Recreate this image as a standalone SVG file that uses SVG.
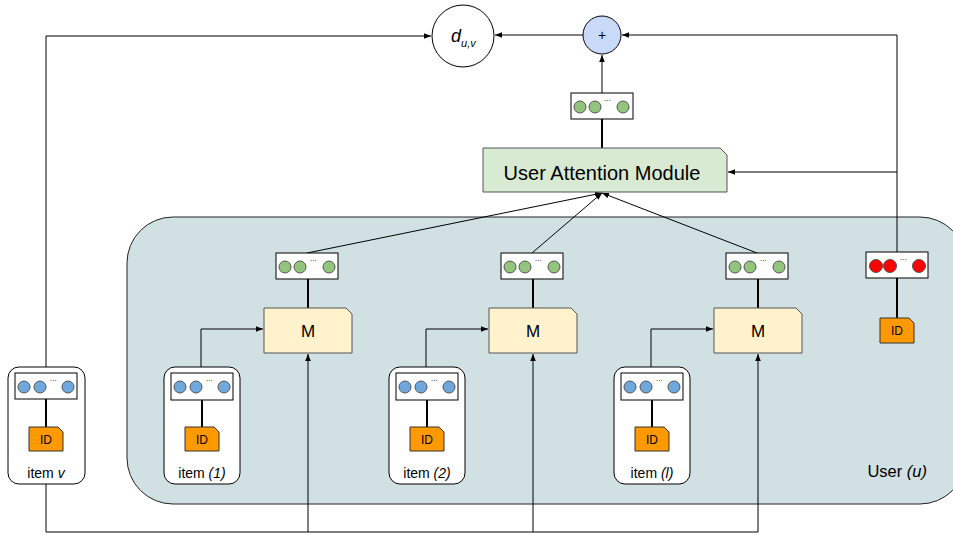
<svg xmlns="http://www.w3.org/2000/svg" width="953" height="535" viewBox="0 0 953 535">
<style>
text{font-family:"Liberation Sans",Arial,sans-serif;fill:#000}
.vec{fill:#fff;stroke:#000;stroke-width:1}
.cb{fill:#6fa8dc;stroke:#555;stroke-width:1}
.cg{fill:#93c47d;stroke:#555;stroke-width:1}
.cr{fill:#ff0000;stroke:#555;stroke-width:1}
.dots{font-size:8px}
.id{fill:#ff9900;stroke:#333;stroke-width:1}
.idt{font-size:12px;text-anchor:middle}
.thick{stroke:#000;stroke-width:2}
.item{fill:#fff;stroke:#000;stroke-width:1}
.m{fill:#fff2cc;stroke:#555;stroke-width:1}
.lbl{font-size:14px;text-anchor:middle}
.con{fill:none;stroke:#000;stroke-width:1}
</style>
<defs>
<marker id="ah" viewBox="0 0 10 10" refX="10" refY="5" markerWidth="7" markerHeight="7" markerUnits="userSpaceOnUse" orient="auto">
<path d="M0,1 L10,5 L0,9 z" fill="#000"/>
</marker>
</defs>

<g id="user">
<rect x="127" y="217" width="839" height="287" rx="46" fill="#d0e0e3" stroke="#222" stroke-width="1"/>
<text x="927" y="477" font-size="16.5" text-anchor="end">User <tspan font-style="italic">(u)</tspan></text>
</g>

<g id="connectors">
<polyline class="con" points="46,367 46,36 431,36" marker-end="url(#ah)"/>
<polyline class="con" points="46,484 46,532 758,532"/>
<line class="con" x1="308" y1="532" x2="308" y2="354" marker-end="url(#ah)"/>
<line class="con" x1="533" y1="532" x2="533" y2="354" marker-end="url(#ah)"/>
<line class="con" x1="758" y1="532" x2="758" y2="354" marker-end="url(#ah)"/>
<polyline class="con" points="201,367 201,329 263,329" marker-end="url(#ah)"/>
<polyline class="con" points="426,367 426,329 488,329" marker-end="url(#ah)"/>
<polyline class="con" points="651,367 651,329 713,329" marker-end="url(#ah)"/>
<line class="con" x1="307" y1="253" x2="602" y2="193" marker-end="url(#ah)"/>
<line class="con" x1="532" y1="253" x2="602" y2="193" marker-end="url(#ah)"/>
<line class="con" x1="757" y1="253" x2="602" y2="193" marker-end="url(#ah)"/>
<polyline class="con" points="897,252 897,35 622,35" marker-end="url(#ah)"/>
<line class="con" x1="897" y1="172" x2="728" y2="172" marker-end="url(#ah)"/>
<line class="con" x1="583" y1="35" x2="495" y2="35" marker-end="url(#ah)"/>
<line class="con" x1="602" y1="93" x2="602" y2="55" marker-end="url(#ah)"/>
<line class="thick" x1="602" y1="119" x2="602" y2="148"/>
<line class="thick" x1="308" y1="279" x2="308" y2="308"/>
<line class="thick" x1="533" y1="279" x2="533" y2="308"/>
<line class="thick" x1="758" y1="279" x2="758" y2="308"/>
<line class="thick" x1="897" y1="278" x2="897" y2="318"/>
</g>

<g id="d_uv">
<circle cx="463" cy="36" r="31" fill="#fff" stroke="#000" stroke-width="1"/>
<text x="451" y="42" font-size="18" font-style="italic">d<tspan font-size="11" dy="5">u,v</tspan></text>
</g>

<g id="plus">
<circle cx="602" cy="35" r="19" fill="#c9daf8" stroke="#000" stroke-width="1"/>
<text x="602" y="40" font-size="14" text-anchor="middle">+</text>
</g>

<g id="user_vector_out">
<rect class="vec" x="571" y="93" width="62" height="26"/>
<circle class="cg" cx="580" cy="107" r="6"/><circle class="cg" cx="595" cy="107" r="6"/><circle class="cg" cx="623" cy="107" r="6"/>
<text class="dots" x="604" y="101">...</text>
</g>

<g id="attention">
<path d="M483,148 H720 L727,155 V192 H483 Z" fill="#d9ead3" stroke="#555" stroke-width="1"/>
<text x="602" y="180" font-size="20" text-anchor="middle">User Attention Module</text>
</g>

<g id="mvec1">
<rect class="vec" x="276" y="253" width="62" height="26"/>
<circle class="cg" cx="285" cy="267" r="6"/><circle class="cg" cx="300" cy="267" r="6"/><circle class="cg" cx="329" cy="267" r="6"/>
<text class="dots" x="310" y="261">...</text>
</g>
<g id="mvec2">
<rect class="vec" x="501" y="253" width="62" height="26"/>
<circle class="cg" cx="510" cy="267" r="6"/><circle class="cg" cx="525" cy="267" r="6"/><circle class="cg" cx="554" cy="267" r="6"/>
<text class="dots" x="535" y="261">...</text>
</g>
<g id="mvec3">
<rect class="vec" x="726" y="253" width="62" height="26"/>
<circle class="cg" cx="735" cy="267" r="6"/><circle class="cg" cx="750" cy="267" r="6"/><circle class="cg" cx="779" cy="267" r="6"/>
<text class="dots" x="760" y="261">...</text>
</g>

<g id="m1">
<path class="m" d="M264,308 H346 L352,314 V353 H264 Z"/>
<text x="308" y="337" font-size="17" text-anchor="middle">M</text>
</g>
<g id="m2">
<path class="m" d="M489,308 H571 L577,314 V353 H489 Z"/>
<text x="533" y="337" font-size="17" text-anchor="middle">M</text>
</g>
<g id="m3">
<path class="m" d="M714,308 H796 L802,314 V353 H714 Z"/>
<text x="758" y="337" font-size="17" text-anchor="middle">M</text>
</g>

<g id="user_id">
<rect class="vec" x="866" y="252" width="62" height="26"/>
<circle class="cr" cx="876" cy="266" r="6.5"/><circle class="cr" cx="890" cy="266" r="6.5"/><circle class="cr" cx="919" cy="266" r="6.5"/>
<text class="dots" x="900" y="260">...</text>
<path class="id" d="M880,318 H909 L914,323 V343 H880 Z"/>
<text class="idt" x="897" y="335">ID</text>
</g>

<g id="item_v">
<rect class="item" x="8" y="367" width="77" height="117" rx="11"/>
<rect class="vec" x="15" y="373" width="62" height="26"/>
<circle class="cb" cx="24" cy="387" r="6"/><circle class="cb" cx="40" cy="387" r="6"/><circle class="cb" cx="68" cy="387" r="6"/>
<text class="dots" x="50" y="381">...</text>
<line class="thick" x1="46" y1="399" x2="46" y2="427"/>
<path class="id" d="M29,427 H58 L63,432 V451 H29 Z"/>
<text class="idt" x="46" y="444">ID</text>
<text class="lbl" x="46" y="478">item <tspan font-style="italic">v</tspan></text>
</g>

<g id="item1">
<rect class="item" x="164" y="367" width="76" height="117" rx="11"/>
<rect class="vec" x="171" y="373" width="62" height="27"/>
<circle class="cb" cx="180" cy="387" r="6"/><circle class="cb" cx="196" cy="387" r="6"/><circle class="cb" cx="224" cy="387" r="6"/>
<text class="dots" x="206" y="381">...</text>
<line class="thick" x1="202" y1="400" x2="202" y2="427"/>
<path class="id" d="M185,427 H214 L219,432 V451 H185 Z"/>
<text class="idt" x="202" y="444">ID</text>
<text class="lbl" x="202" y="478">item <tspan font-style="italic">(1)</tspan></text>
</g>

<g id="item2">
<rect class="item" x="389" y="367" width="76" height="117" rx="11"/>
<rect class="vec" x="396" y="373" width="62" height="27"/>
<circle class="cb" cx="405" cy="387" r="6"/><circle class="cb" cx="421" cy="387" r="6"/><circle class="cb" cx="449" cy="387" r="6"/>
<text class="dots" x="431" y="381">...</text>
<line class="thick" x1="427" y1="400" x2="427" y2="427"/>
<path class="id" d="M410,427 H439 L444,432 V451 H410 Z"/>
<text class="idt" x="427" y="444">ID</text>
<text class="lbl" x="427" y="478">item <tspan font-style="italic">(2)</tspan></text>
</g>

<g id="iteml">
<rect class="item" x="614" y="367" width="76" height="117" rx="11"/>
<rect class="vec" x="621" y="373" width="62" height="27"/>
<circle class="cb" cx="630" cy="387" r="6"/><circle class="cb" cx="646" cy="387" r="6"/><circle class="cb" cx="674" cy="387" r="6"/>
<text class="dots" x="656" y="381">...</text>
<line class="thick" x1="652" y1="400" x2="652" y2="427"/>
<path class="id" d="M635,427 H664 L669,432 V451 H635 Z"/>
<text class="idt" x="652" y="444">ID</text>
<text class="lbl" x="652" y="478">item <tspan font-style="italic">(l)</tspan></text>
</g>
</svg>
